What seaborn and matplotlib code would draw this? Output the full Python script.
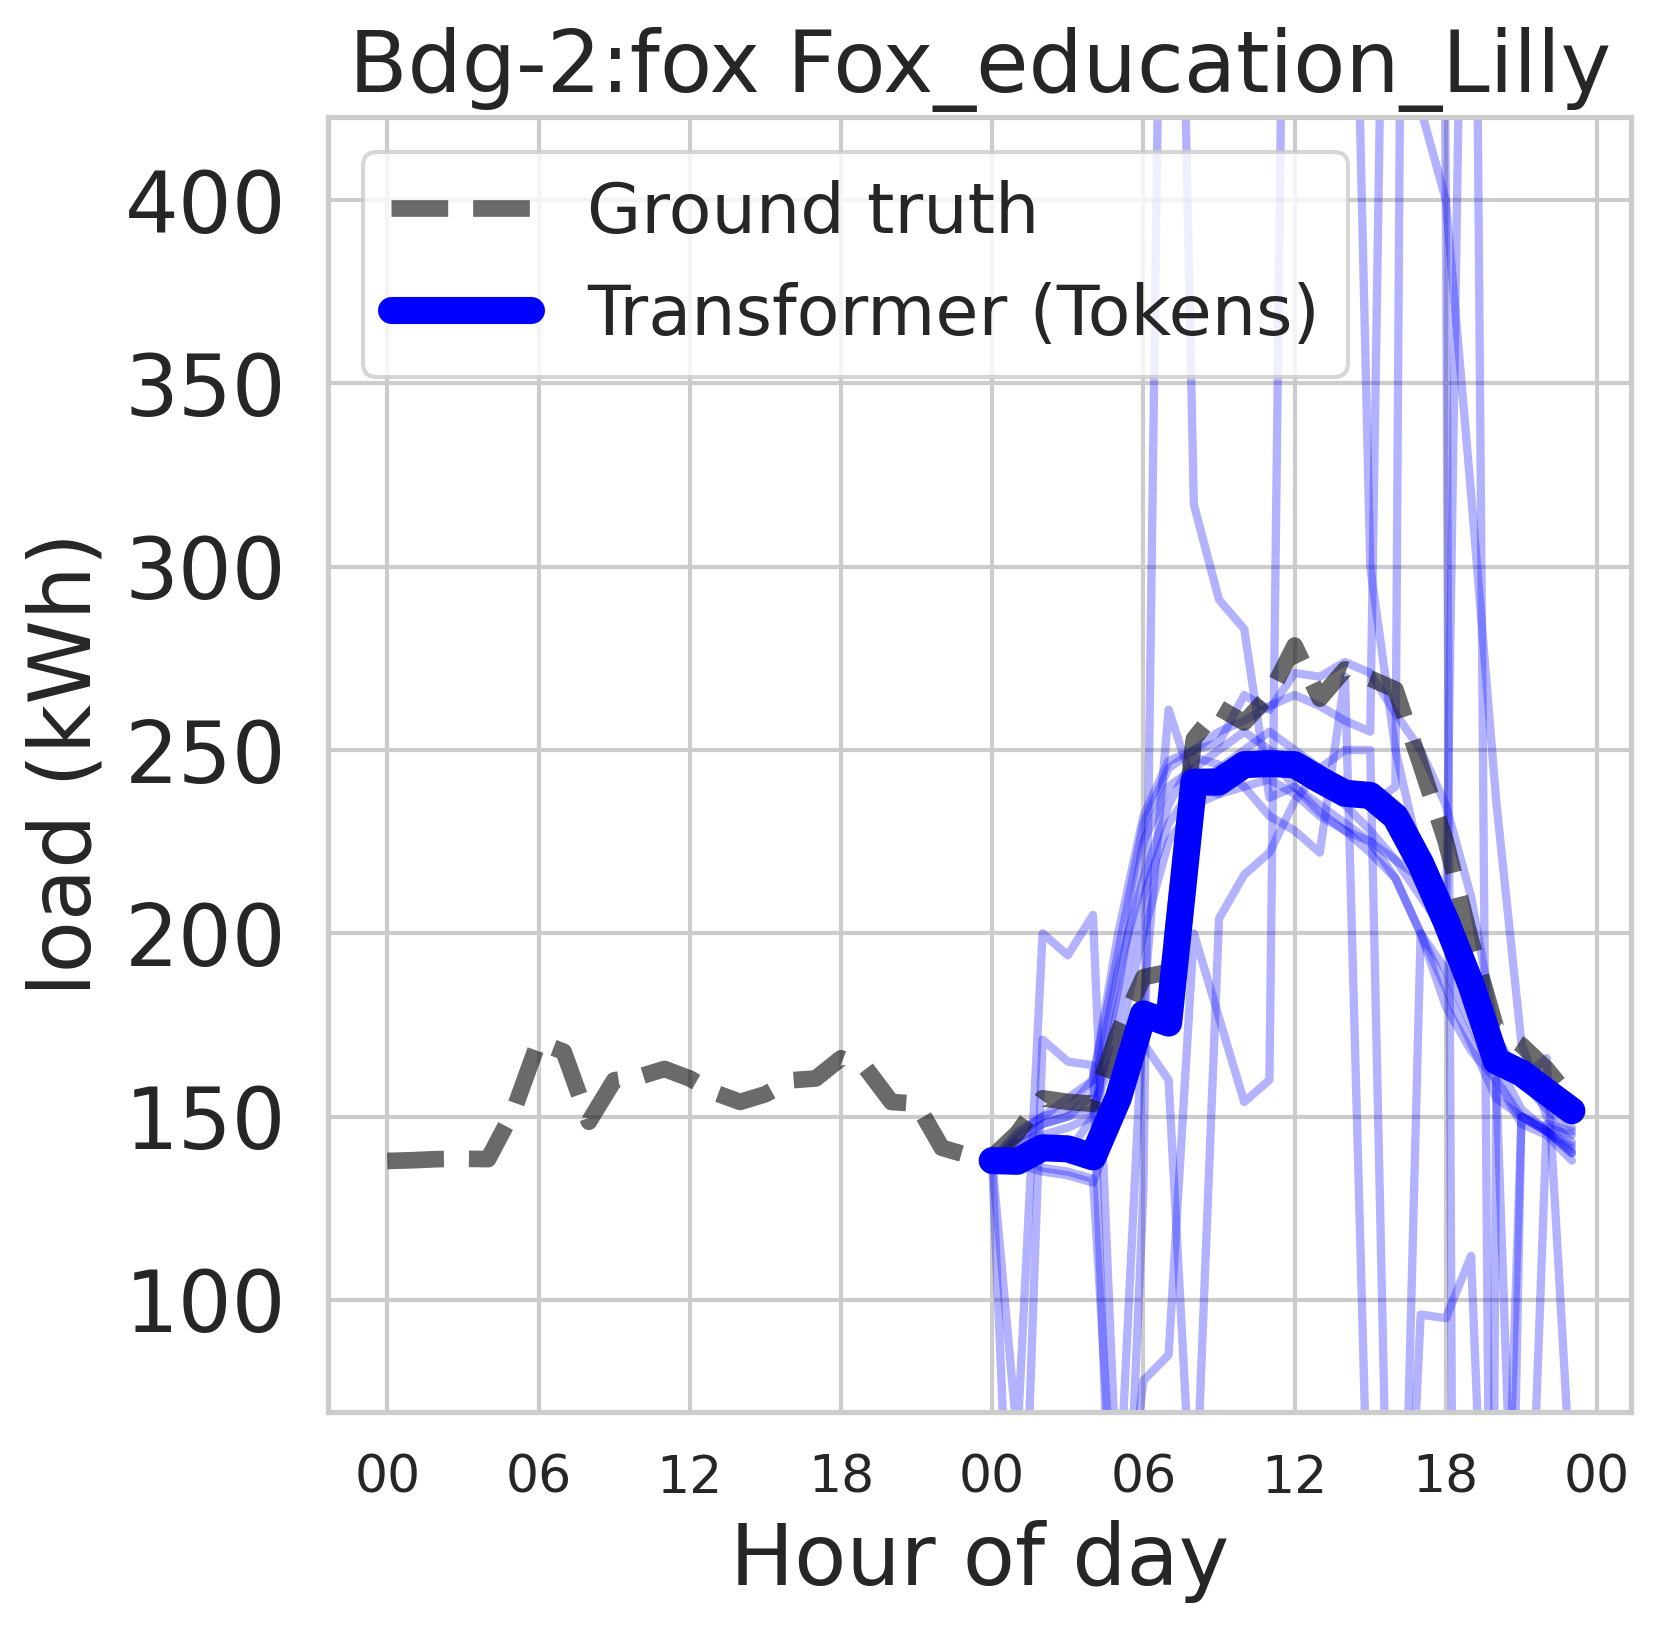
import numpy as np
import pandas as pd
import seaborn as sns
import matplotlib.pyplot as plt

sns.set_theme(style="whitegrid")
plt.rcParams["font.family"] = ["DejaVu Sans"]

# %%
# data
title = "Bdg-2:fox Fox_education_Lilly"

hours = list(range(48))
ground_truth = [137.9, 138.1, 138.4, 138.5, 138.4, 151.4, 170.4, 167.7, 148.6, 159.9,
                160.9, 163.0, 160.4, 156.5, 154.0, 156.1, 159.9, 160.4, 165.9, 163.1,
                154.0, 153.5, 141.5, 139.5,
                139.0, 145.5, 155.0, 154.0, 153.5, 173.0, 188.0, 189.5, 253.0, 261.5,
                257.5, 265.0, 278.5, 264.0, 272.0, 269.5, 266.5, 246.0, 225.0, 198.0,
                174.0, 169.5, 163.0, 154.5]

pred_hours = list(range(24, 48))
transformer_mean = [138.0, 137.8, 141.5, 141.2, 139.0, 155.0, 178.0, 175.5, 241.2, 241.3,
                    246.0, 246.3, 246.0, 241.9, 238.2, 237.6, 231.8, 219.0, 203.4, 186.0,
                    165.2, 161.9, 156.7, 151.6]

# individual sampled forecasts (many run off the visible range)
sample_1 = [138, 62, 200, 194, 205, 40, 180, 261, 240, 238, 245, 248,
            240, 233, 228, 222, 215, 200, 180, 168, 160, -40, 148, 146]
sample_2 = [138, -25, 171, 165, 164, -30, 130, 650, 317, 291, 283, 237,
            240, 235, 230, 225, 215, 200, 185, 170, 155, 150, 147, 145]
sample_3 = [138, 140, 136, 135, 133, 20, 78, 85, 200, 177, 154, 160,
            740, 1000, 600, 300, 250, 220, 200, 185, 165, 152, 146, 140]
sample_4 = [138, 146, 150, 152, 160, 200, 232, 247, 250, 252, 265, 261,
            271, 270, 274, 271, 260, 250, 235, 210, 172, 160, 152, 147]
sample_5 = [138, 144, 148, 150, 156, 190, 215, 235, 248, 246, 240, 232,
            228, 222, 270, 15, -50, 96, 95, 112, -60, 150, 146, 140]
sample_6 = [138, 137, 135, 134, 132, 150, 170, 160, 30, 204, 216, 222,
            236, 245, 250, 250, -70, 200, 190, 175, 160, 148, 145, 138]
sample_7 = [138, 140, 142, 140, 150, 185, 225, 240, 245, 250, 255, 250,
            245, 240, 235, 228, 220, 210, 200, 650, -200, 150, 146, 142]
sample_8 = [138, 143, 145, 147, 150, 180, 210, 230, 240, 245, 250, 255,
            250, 245, 240, 235, 240, 1300, 400, -1000, 160, 150, 146, 141]
sample_9 = [138, 145, 150, 155, 160, 195, 230, 245, 250, 255, 258, 262,
            265, 262, 258, 255, 700, 425, 400, 320, 236, 170, 150, 143]
sample_10 = [138, 142, 148, 150, 152, 170, 200, 225, 235, 238, 240, 242,
             238, 232, 228, 225, 220, 215, 205, 180, 166, 160, 166, 45]
samples = [sample_1, sample_2, sample_3, sample_4, sample_5,
           sample_6, sample_7, sample_8, sample_9, sample_10]

tick_hours = list(range(0, 49, 6))
tick_labels = ["00", "06", "12", "18", "00", "06", "12", "18", "00"]
load_ticks = [100, 150, 200, 250, 300, 350, 400]

# %%
df_samples = pd.DataFrame({
    "sample": np.repeat(np.arange(len(samples)), len(pred_hours)),
    "hour": pred_hours * len(samples),
    "load": np.concatenate(samples),
})

fig, ax = plt.subplots(figsize=(1661 / 300, 1630 / 300), dpi=300)
fig.subplots_adjust(left=0.1975, right=0.982, top=0.9285, bottom=0.1337)

sns.lineplot(data=df_samples, x="hour", y="load", units="sample", estimator=None,
             color="blue", alpha=0.3, lw=2.0, legend=False, ax=ax)
sns.lineplot(x=hours, y=ground_truth, color="k", alpha=0.65, lw=4,
             linestyle=(0, (3.4, 1.5)), label="Ground truth", ax=ax)
sns.lineplot(x=pred_hours, y=transformer_mean, color="blue", lw=6.5,
             solid_capstyle="round", label="Transformer (Tokens)", ax=ax)

ax.set_ylim(69.4, 422.8)
ax.set_yticks(load_ticks)
ax.set_xticks(tick_hours)
ax.set_xticklabels(tick_labels)
ax.tick_params(axis="y", labelsize=20.3, length=0, pad=10)
ax.tick_params(axis="x", labelsize=12.5, length=0, pad=10)
ax.set_xlabel("Hour of day", fontsize=20.5)
ax.set_ylabel("load (kWh)", fontsize=20.5)
ax.set_title(title, fontsize=20.5)
ax.legend(loc="upper left", fontsize=16.8)

fig.savefig("out.png", dpi=300)
